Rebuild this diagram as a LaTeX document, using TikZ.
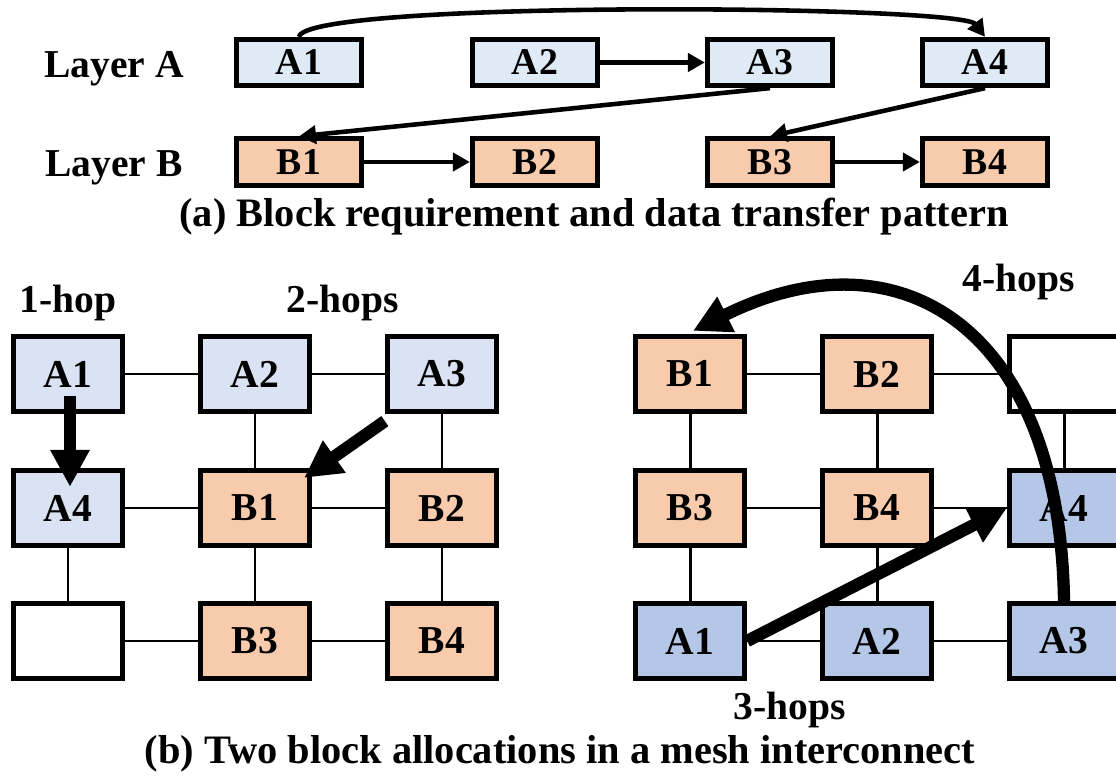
\documentclass[tikz,border=0pt]{standalone}
\usepackage{fontspec}
\setmainfont{Liberation Serif}
\usetikzlibrary{arrows.meta,calc}

\definecolor{topblue}{HTML}{DEEBF7}
\definecolor{meshblue}{HTML}{DAE3F3}
\definecolor{deepblue}{HTML}{B4C7E7}
\definecolor{peach}{HTML}{F8CBAD}

\begin{document}
\begin{tikzpicture}[x=0.02cm,y=-0.02cm,
  blk/.style={draw,line width=2.7pt,minimum width=2.51cm,minimum height=0.93cm,inner sep=0pt,
    font=\fontsize{21.5}{24}\selectfont\bfseries},
  tile/.style={draw,line width=2.7pt,minimum width=2.19cm,minimum height=1.51cm,inner sep=0pt,
    font=\fontsize{22.5}{26}\selectfont\bfseries},
  lbl/.style={inner sep=0pt,anchor=base,font=\fontsize{22.5}{26}\selectfont\bfseries},
  figcap/.style={inner sep=0pt,anchor=base,font=\fontsize{23}{27}\selectfont\bfseries},
  link/.style={line width=1.7pt},
  xfer/.style={line width=2.6pt,-{Triangle[length=0.34cm,width=0.36cm]}},
  hop/.style={line width=7pt,-{Triangle[length=0.74cm,width=0.74cm]}}]
\clip (0,0) rectangle (1116,776);

% (a) layers
\node[lbl] (layA) at (114,78) {Layer A};
\node[lbl] (layB) at (114,177) {Layer B};
\node[blk,fill=topblue] (tA1) at (299,62.5) {A1};
\node[blk,fill=topblue] (tA2) at (535,62.5) {A2};
\node[blk,fill=topblue] (tA3) at (770,62.5) {A3};
\node[blk,fill=topblue] (tA4) at (985,62.5) {A4};
\node[blk,fill=peach] (tB1) at (299,162) {B1};
\node[blk,fill=peach] (tB2) at (535,162) {B2};
\node[blk,fill=peach] (tB3) at (770,162) {B3};
\node[blk,fill=peach] (tB4) at (985,162) {B4};
\draw[xfer] (tA1.north) .. controls +(6,-37) and +(-24,-32) .. (tA4.north);
\draw[xfer] (tA2) -- (tA3);
\draw[xfer] (tA3.south) -- (tB1.north);
\draw[xfer] (tA4.south) -- (tB3.north);
\draw[xfer] (tB1) -- (tB2);
\draw[xfer] (tB3) -- (tB4);
\node[figcap] (capA) at (594,227) {(a) Block requirement and data transfer pattern};

% (b) left mesh
\node[tile,fill=meshblue] (lA1) at (68,374) {A1};
\node[tile,fill=meshblue] (lA2) at (255,374) {A2};
\node[tile,fill=meshblue] (lA3) at (442,374) {A3};
\node[tile,fill=meshblue] (lA4) at (68,508) {A4};
\node[tile,fill=peach] (lB1) at (255,508) {B1};
\node[tile,fill=peach] (lB2) at (442,508) {B2};
\node[tile,fill=white] (lE) at (68,641) {};
\node[tile,fill=peach] (lB3) at (255,641) {B3};
\node[tile,fill=peach] (lB4) at (442,641) {B4};
\draw[link] (lA1) -- (lA2);
\draw[link] (lA2) -- (lA3);
\draw[link] (lA4) -- (lB1);
\draw[link] (lB1) -- (lB2);
\draw[link] (lE) -- (lB3);
\draw[link] (lB3) -- (lB4);
\draw[link] (lA4) -- (lE);
\draw[link] (lA2) -- (lB1);
\draw[link] (lB1) -- (lB3);
\draw[link] (lA3) -- (lB2);
\draw[link] (lB2) -- (lB4);
\draw[hop] ($(lA1)+(2,22)$) -- ($(lA4.north)+(2,19)$);
\draw[hop] ($(lA3.south west)+(0,7)$) -- ($(lB1.north east)+(-8,10)$);
\node[lbl] (hop1) at (68,313) {1-hop};
\node[lbl] (hop2) at (343,313) {2-hops};

% (b) right mesh
\node[tile,fill=peach] (rB1) at (690,374) {B1};
\node[tile,fill=peach] (rB2) at (877,374) {B2};
\node[tile,fill=white] (rE) at (1064,374) {};
\node[tile,fill=peach] (rB3) at (690,508) {B3};
\node[tile,fill=peach] (rB4) at (877,508) {B4};
\node[tile,fill=deepblue] (rA4) at (1064,508) {A4};
\node[tile,fill=deepblue] (rA1) at (690,641) {A1};
\node[tile,fill=deepblue] (rA2) at (877,641) {A2};
\node[tile,fill=deepblue] (rA3) at (1064,641) {A3};
\draw[link] (rB1) -- (rB2);
\draw[link] (rB2) -- (rE);
\draw[link] (rB3) -- (rB4);
\draw[link] (rB4) -- (rA4);
\draw[link] (rA1) -- (rA2);
\draw[link] (rA2) -- (rA3);
\draw[link] (rB1) -- (rB3);
\draw[link] (rB3) -- (rA1);
\draw[link] (rB2) -- (rB4);
\draw[link] (rB4) -- (rA2);
\draw[link] (rE) -- (rA4);
\draw[hop] (rA1.east) -- (rA4.west);
\draw[hop] (rA3.north) .. controls +(-4,-273) and +(207,-103) .. ($(rB1.north)+(3,-3)$);
\node[lbl] (hop4) at (1019,292) {4-hops};
\node[lbl] (hop3) at (790,719) {3-hops};

\node[figcap] (capB) at (560,763) {(b) Two block allocations in a mesh interconnect};
\end{tikzpicture}
\end{document}
